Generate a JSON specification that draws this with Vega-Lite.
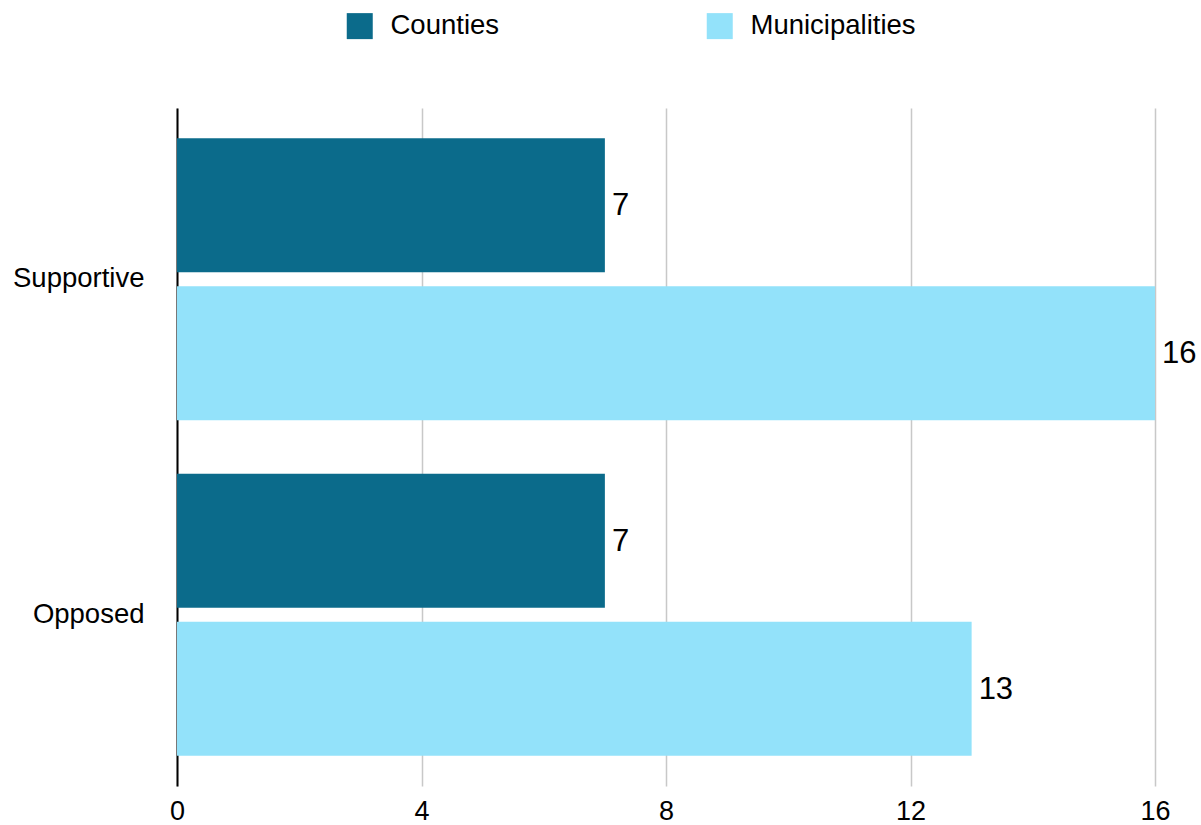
{
  "$schema": "https://vega.github.io/schema/vega-lite/v6.json",
  "autosize": {"type": "none"},
  "width": 978,
  "height": 678,
  "padding": {"left": 177, "top": 108, "right": 46, "bottom": 39},
  "background": "white",
  "config": {
    "view": {"stroke": null},
    "font": "Liberation Sans"
  },
  "data": {
    "values": [
      {"status": "Supportive", "type": "Counties", "value": 7},
      {"status": "Supportive", "type": "Municipalities", "value": 16},
      {"status": "Opposed", "type": "Counties", "value": 7},
      {"status": "Opposed", "type": "Municipalities", "value": 13}
    ]
  },
  "encoding": {
    "y": {
      "field": "status",
      "type": "nominal",
      "sort": ["Supportive", "Opposed"],
      "scale": {"paddingInner": 0.16, "paddingOuter": 0.09},
      "axis": {
        "title": null,
        "ticks": false,
        "domain": true,
        "domainColor": "#000000",
        "domainWidth": 2,
        "labelFontSize": 27.5,
        "labelColor": "#000000",
        "labelPadding": 33
      }
    },
    "yOffset": {
      "field": "type",
      "type": "nominal",
      "sort": ["Counties", "Municipalities"],
      "scale": {"paddingInner": 0.095, "paddingOuter": 0}
    },
    "x": {
      "field": "value",
      "type": "quantitative",
      "scale": {"domain": [0, 16], "nice": false},
      "axis": {
        "title": null,
        "values": [0, 4, 8, 12, 16],
        "ticks": false,
        "domain": false,
        "grid": true,
        "gridColor": "#c8c8c8",
        "gridWidth": 1.5,
        "labelFlush": false,
        "labelFontSize": 27,
        "labelColor": "#000000",
        "labelBaseline": "alphabetic",
        "labelPadding": 33
      }
    }
  },
  "layer": [
    {
      "mark": {"type": "bar"},
      "encoding": {
        "color": {
          "field": "type",
          "type": "nominal",
          "sort": ["Counties", "Municipalities"],
          "scale": {"domain": ["Counties", "Municipalities"], "range": ["#0b6b8b", "#93e2fa"]},
          "legend": {
            "title": null,
            "orient": "none",
            "direction": "horizontal",
            "legendX": 169,
            "legendY": -96,
            "padding": 0,
            "symbolType": "square",
            "symbolSize": 676,
            "symbolStrokeWidth": 0,
            "symbolOpacity": 1,
            "labelFontSize": 27.5,
            "labelColor": "#000000",
            "labelOffset": 17,
            "labelLimit": 400,
            "columnPadding": 206
          }
        }
      }
    },
    {
      "mark": {"type": "text", "align": "left", "baseline": "middle", "dx": 7, "dy": 1, "fontSize": 31, "color": "#000000"},
      "encoding": {
        "text": {"field": "value", "type": "quantitative"}
      }
    }
  ]
}
